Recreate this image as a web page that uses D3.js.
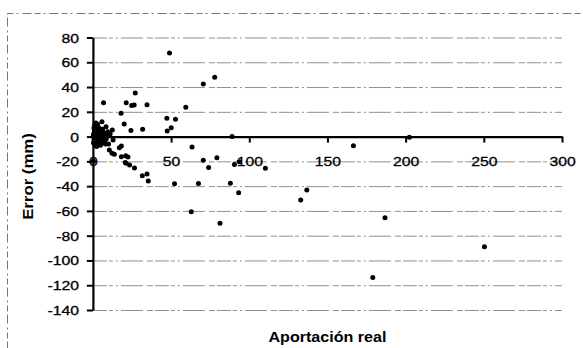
<!DOCTYPE html>
<html><head><meta charset="utf-8">
<script src="https://cdn.jsdelivr.net/npm/d3@7"></script>
<style>html,body{margin:0;padding:0;background:#fff;}svg{display:block;}</style>
</head><body>
<svg id="chart" width="583" height="348"></svg>
<script>
// ---- data ----
const xTicks = [0, 50, 100, 150, 200, 250, 300];
const yTicks = [80, 60, 40, 20, 0, -20, -40, -60, -80, -100, -120, -140];
const xTitle = "Aportación real";
const yTitle = "Error (mm)";
// aportación real (x) and error (mm) (y)
const clusterX = [0.5,1,1.5,2,2.5,3,0.8,1.2,2,3.5,4,4.5,5,5.5,6,6.5,7,7.5,8,3,4,2.2,1.7,0.3,0.6,1.4,3.2,5.2,6.2,9,8.5,10,4.8,9.5,11,0.4,1.1,2.7,3.8,6.8,7.8,0.9,2.4,3.6,5.8,1.9,4.3,7.2,0.7,2.9];
const clusterY = [2,4,-1,1,3,-2,-3,6,8,5,0.5,-3,2,-5,0,-1.5,3,-4,-6,10,7,-5,-7,0.5,-1,1.5,2.5,5,6,1,-2,-6,-7,4,2,-5,9,-3.5,-1,-3,1,-6,-8,-5.5,-2.5,11,4.5,-1,7,-0.5];
const upperX = [6.8,21.3,24.8,26.4,34.6,27.1,18,20,24.3,31.8,12.4,5.8,8.4,49,77.9,70.6,59.4,47.3,52.8,50.1,47.5,89,202.4];
const upperY = [27.4,27.4,25.2,25.6,25.8,35.2,18.8,10.2,5,6,5.3,12,8,67.5,47.9,42.5,23.7,14.8,13.9,7.1,4.6,0,-0.5];
const lowerX = [63.4,70.6,74,79.3,90.5,93.5,110.3,166.6,52.2,67.5,87.9,93.2,62.9,81.3,132.9,136.8,186.8,179,250.4,31.6,34.6,35.4,21.3,22.4,26.6,16.9,10.5,12.2,13.7,18.2,21,18.2,12.9,23.5,0.3,20.7];
const lowerY = [-8.4,-19,-25,-17,-22.5,-20.4,-25.6,-7.3,-38.1,-37.9,-37.6,-45.3,-60.7,-69.9,-51.2,-43.1,-65.5,-113.8,-88.9,-31.7,-30.3,-35.9,-21.6,-16.4,-25.3,-9,-10.8,-13.4,-14.3,-16.2,-15.4,-7.6,-2.7,-22.9,-20,-21];

const points = [];
[[clusterX, clusterY], [upperX, upperY], [lowerX, lowerY]].forEach(([xs, ys]) => {
  xs.forEach((v, i) => points.push({x: v, y: ys[i]}));
});

const svg = d3.select("#chart");
const FONT = "Arial, 'Liberation Sans', Helvetica, sans-serif";
const SX = 1.26; // horizontal stretch of the scanned text

const x = d3.scaleLinear().domain([0, 300]).range([92.9, 562]);
const y = d3.scaleLinear().domain([-140, 80]).range([310, 37.5]);

// outer dashed frame
svg.append("rect")
  .attr("x", 7.5).attr("y", 13.5).attr("width", 640).attr("height", 400)
  .attr("fill", "none").attr("stroke", "#777").attr("stroke-width", 1)
  .attr("stroke-dasharray", "6,3,2,4,9,3");

// horizontal gridlines
svg.append("g").selectAll("line").data(yTicks.filter(d => d !== 0)).join("line")
  .attr("x1", x(0)).attr("x2", x(300))
  .attr("y1", d => y(d) + 0.5).attr("y2", d => y(d) + 0.5)
  .attr("stroke", "#909090").attr("stroke-width", 1)
  .attr("stroke-dasharray", "14,2,4,3,2,3,22,4,6,2");

// y axis
const gy = svg.append("g").attr("transform", `translate(${x(0)},0)`)
  .call(d3.axisLeft(y).tickValues(yTicks).tickSize(6).tickSizeOuter(0).tickFormat(d => String(d)));
gy.select(".domain").attr("stroke", "#000").attr("stroke-width", 2.2);
gy.selectAll(".tick line").attr("stroke", "#000").attr("stroke-width", 2);
gy.selectAll(".tick text")
  .attr("x", null).attr("dy", null)
  .attr("transform", `translate(-14,4.5) scale(${SX},1)`)
  .attr("font-family", FONT).attr("font-size", 12.5).attr("fill", "#000")
  .attr("stroke", "#000").attr("stroke-width", 0.3)
  .attr("text-anchor", "end");

// x axis at y = 0
const gx = svg.append("g").attr("transform", `translate(0,${y(0)})`)
  .call(d3.axisBottom(x).tickValues(xTicks).tickSize(6).tickSizeOuter(0).tickFormat(d => String(d)));
gx.select(".domain").attr("stroke", "#000").attr("stroke-width", 2.4);
gx.selectAll(".tick line").attr("stroke", "#000").attr("stroke-width", 2);
gx.selectAll(".tick text")
  .attr("y", null).attr("dy", null)
  .attr("transform", `translate(0,${y(-20) - y(0) + 5}) scale(${SX},1)`)
  .attr("font-family", FONT).attr("font-size", 12.5).attr("fill", "#000")
  .attr("stroke", "#000").attr("stroke-width", 0.3)
  .attr("text-anchor", "middle");

// points
svg.append("g").selectAll("circle").data(points).join("circle")
  .attr("cx", d => x(d.x)).attr("cy", d => y(d.y)).attr("r", 2.5)
  .attr("fill", "#000");

// axis titles
svg.append("text")
  .attr("transform", `translate(${(x(0) + x(300)) / 2},${342}) scale(1.15,1)`)
  .attr("text-anchor", "middle")
  .attr("font-family", FONT).attr("font-size", 14).attr("font-weight", "bold")
  .text(xTitle);
svg.append("text")
  .attr("transform", `translate(33,176.5) rotate(-90) scale(1.2,1)`)
  .attr("text-anchor", "middle")
  .attr("font-family", FONT).attr("font-size", 14).attr("font-weight", "bold")
  .text(yTitle);
</script>
</body></html>
